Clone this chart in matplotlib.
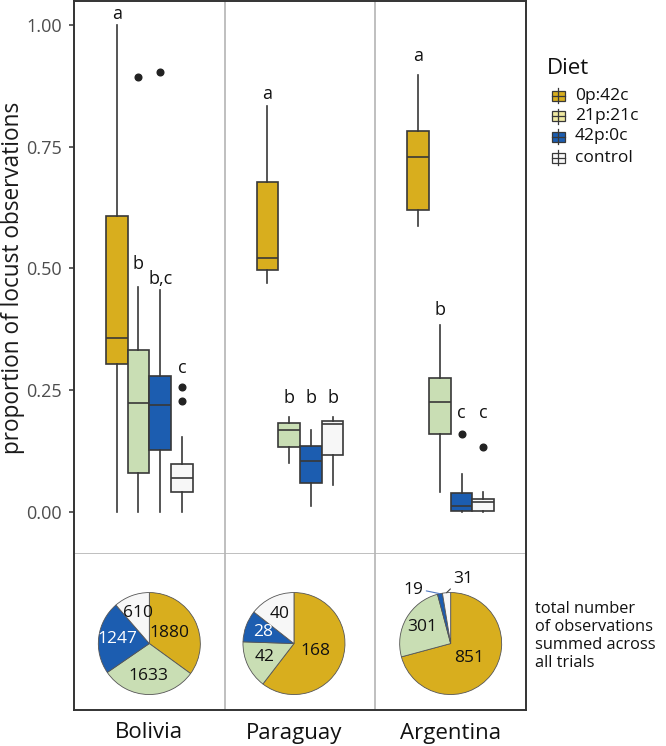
import matplotlib
matplotlib.use("Agg")
import numpy as np
import matplotlib.pyplot as plt
from matplotlib.patches import Rectangle

plt.rcParams["font.family"] = ["Open Sans", "DejaVu Sans"]

countries = ["Bolivia", "Paraguay", "Argentina"]
diets = ["0p:42c", "21p:21c", "42p:0c", "control"]

# box stats per country, in diet order: (whislo, q1, med, q3, whishi)
bolivia_stats = [
    (0.0, 0.303, 0.357, 0.607, 1.000),
    (0.0, 0.081, 0.223, 0.332, 0.462),
    (0.0, 0.128, 0.219, 0.279, 0.455),
    (0.0, 0.042, 0.069, 0.098, 0.154),
]
paraguay_stats = [
    (0.470, 0.496, 0.522, 0.678, 0.834),
    (0.100, 0.134, 0.168, 0.182, 0.195),
    (0.012, 0.059, 0.105, 0.136, 0.168),
    (0.055, 0.117, 0.180, 0.187, 0.195),
]
argentina_stats = [
    (0.588, 0.620, 0.728, 0.783, 0.898),
    (0.042, 0.161, 0.226, 0.275, 0.383),
    (0.0, 0.002, 0.012, 0.040, 0.079),
    (0.0, 0.002, 0.021, 0.027, 0.042),
]
bolivia_fliers = [[], [0.893], [0.903], [0.257, 0.227]]
paraguay_fliers = [[], [], [], []]
argentina_fliers = [[], [], [0.160], [0.133]]

# significance letters and the height they sit at
bolivia_letters = ["a", "b", "b,c", "c"]
bolivia_letter_y = [1.012, 0.499, 0.469, 0.285]
paraguay_letters = ["a", "b", "b", "b"]
paraguay_letter_y = [0.848, 0.224, 0.224, 0.224]
argentina_letters = ["a", "b", "c", "c"]
argentina_letter_y = [0.925, 0.404, 0.194, 0.194]

# total observations per diet
bolivia_counts = [1880, 1633, 1247, 610]
paraguay_counts = [168, 42, 28, 40]
argentina_counts = [851, 301, 19, 31]

box_colors = ["#d8ae1e", "#c9deb4", "#1c5db0", "#f7f7f7"]
key_colors = ["#d8ae1e", "#efe9a2", "#1c5db0", "#f7f7f7"]
edge = "#383838"
frame = "#333333"
divider = "#b4b4b4"

W, H = 666, 746
fig = plt.figure(figsize=(W / 100, H / 100), dpi=100)


def px_axes(x0, y0, x1, y1):
    return fig.add_axes([x0 / W, 1 - y1 / H, (x1 - x0) / W, (y1 - y0) / H])


# ---- box plot panel ----
ax = px_axes(74, 1, 526, 554)
step = 0.144
offsets = (np.arange(4) - 1.5) * step

all_stats = [bolivia_stats, paraguay_stats, argentina_stats]
all_fliers = [bolivia_fliers, paraguay_fliers, argentina_fliers]
all_letters = [bolivia_letters, paraguay_letters, argentina_letters]
all_letter_y = [bolivia_letter_y, paraguay_letter_y, argentina_letter_y]

for ci in range(3):
    stats = []
    for (lo, q1, med, q3, hi), fl in zip(all_stats[ci], all_fliers[ci]):
        stats.append(dict(whislo=lo, q1=q1, med=med, q3=q3, whishi=hi, fliers=fl))
    pos = ci + offsets
    bp = ax.bxp(stats, positions=pos, widths=step * 0.99, patch_artist=True,
                showcaps=False, manage_ticks=False,
                boxprops=dict(edgecolor=edge, linewidth=1.2),
                medianprops=dict(color=edge, linewidth=1.2),
                whiskerprops=dict(color=edge, linewidth=1.2),
                flierprops=dict(marker="o", markersize=4.8, markerfacecolor="#222222",
                                markeredgecolor="#222222"))
    for patch, col in zip(bp["boxes"], box_colors):
        patch.set_facecolor(col)
    for x, lab, y in zip(pos, all_letters[ci], all_letter_y[ci]):
        ax.text(x, y, lab, ha="center", va="baseline", fontsize=13, color="#111111")

for xd in [0.5, 1.5]:
    ax.axvline(xd, color=divider, lw=1.2)

ax.set_xlim(-0.5, 2.5)
ax.set_ylim(-0.086, 1.049)
ax.set_xticks([])
ax.set_yticks([0, 0.25, 0.5, 0.75, 1.0])
ax.set_yticklabels(["0.00", "0.25", "0.50", "0.75", "1.00"])
ax.tick_params(axis="y", length=3.5, width=1.1, color=frame, labelsize=13,
               labelcolor="#4d4d4d", pad=5)
ax.set_ylabel("proportion of locust observations", fontsize=16.3, color="#1a1a1a",
              labelpad=1)
for side in ["left", "top", "right"]:
    ax.spines[side].set_color(frame)
    ax.spines[side].set_linewidth(1.4)
ax.spines["bottom"].set_color(divider)
ax.spines["bottom"].set_linewidth(1.2)

# ---- pie panel ----
pax = px_axes(74, 554, 526, 710)
pie_x = [0.0, 0.96, 2.0]
pie_y = 0.441
pie_r = 0.3385
all_counts = [bolivia_counts, paraguay_counts, argentina_counts]
text_cols = ["#111111", "#111111", "white", "#111111"]

for ci in range(3):
    counts = all_counts[ci]
    wedges, _ = pax.pie(counts, colors=box_colors, startangle=90, counterclock=False,
                        center=(pie_x[ci], pie_y), radius=pie_r, frame=True,
                        wedgeprops=dict(edgecolor="#555555", linewidth=0.6))
    total = sum(counts)
    for k, (w, n) in enumerate(zip(wedges, counts)):
        mid = np.deg2rad((w.theta1 + w.theta2) / 2)
        if n / total < 0.05:
            continue
        frac = 0.45 if k == 0 else 0.64
        tx = pie_x[ci] + pie_r * frac * np.cos(mid)
        ty = pie_y + pie_r * frac * np.sin(mid)
        pax.text(tx, ty, str(n), ha="center", va="center", fontsize=12.5,
                 color=text_cols[k])
    # small slices get a leader line
    for k, (w, n) in enumerate(zip(wedges, counts)):
        if n / total >= 0.05:
            continue
        mid = np.deg2rad((w.theta1 + w.theta2) / 2)
        ex = pie_x[ci] + pie_r * np.cos(mid)
        ey = pie_y + pie_r * np.sin(mid)
        if k == 2:
            off, rel, lc = (-19, 3), (1.0, 0.45), "#4f78c0"
        else:
            off, rel, lc = (12, 10), (0.05, 0.1), "#444444"
        pax.annotate(str(n), xy=(ex, ey), xytext=off, textcoords="offset points",
                     ha="center", va="center", fontsize=12.5, color="#111111",
                     arrowprops=dict(arrowstyle="-", color=lc, lw=0.8,
                                     relpos=rel, shrinkA=0, shrinkB=0))

for xd in [0.5, 1.5]:
    pax.axvline(xd, color=divider, lw=1.2)
pax.set_aspect("auto")
pax.set_xlim(-0.5, 2.5)
pax.set_ylim(0, 156 / (452 / 3))
pax.set_yticks([])
pax.set_xticks(pie_x)
pax.set_xticklabels(countries)
pax.tick_params(axis="x", length=0, labelsize=16, labelcolor="#111111", pad=9)
pax.set_frame_on(True)
for side in ["left", "bottom", "right"]:
    pax.spines[side].set_visible(True)
    pax.spines[side].set_color(frame)
    pax.spines[side].set_linewidth(1.4)
pax.spines["top"].set_visible(False)

fig.text(535 / W, 1 - 601 / H, "total number\nof observations\nsummed across\nall trials",
         ha="left", va="top", fontsize=11.8, color="#111111", linespacing=1.17)

# ---- legend ----
lax = px_axes(540, 50, 666, 175)
lax.set_xlim(540, 666)
lax.set_ylim(175, 50)
lax.axis("off")
lax.text(547, 68, "Diet", ha="left", va="center", fontsize=16, color="#111111")
key_y = [95.5, 116, 136.5, 157.5]
for yk, col, lab in zip(key_y, key_colors, diets):
    lax.plot([558, 558], [yk - 7.5, yk + 7.5], color=edge, lw=0.9)
    lax.add_patch(Rectangle((551.5, yk - 5), 13, 10, facecolor=col, edgecolor=edge, lw=0.9))
    lax.plot([551.5, 564.5], [yk, yk], color=edge, lw=0.9)
    lax.text(575, yk, lab, ha="left", va="center", fontsize=12.5, color="#111111")

fig.savefig("out.png", dpi=100)
